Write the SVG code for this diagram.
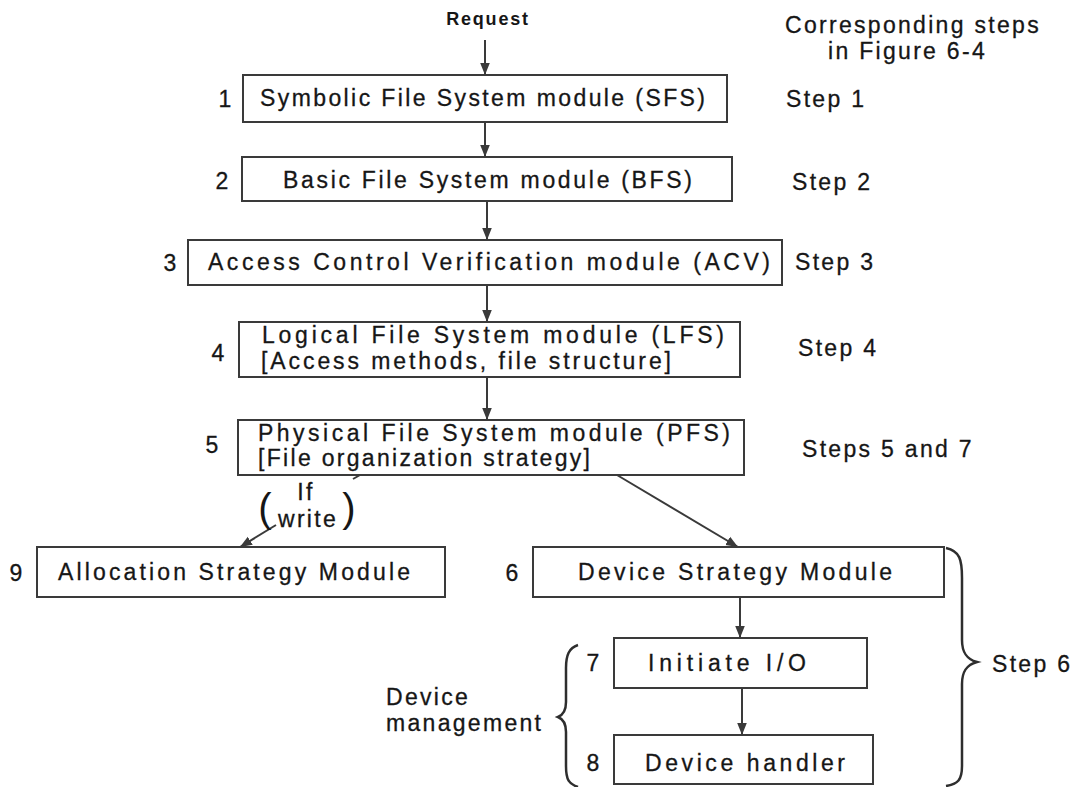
<svg xmlns="http://www.w3.org/2000/svg" width="1085" height="787" viewBox="0 0 1085 787">
  <defs>
    <marker id="arrow" markerUnits="userSpaceOnUse" markerWidth="12" markerHeight="16" refX="15" refY="6" viewBox="0 0 15 12" orient="auto">
      <path d="M0,0 L15,6 L0,12 Z" fill="#3a3a3a"/>
    </marker>
    <style>
      text { font-family: "Liberation Sans", Arial, sans-serif; fill: #161616; stroke: #161616; stroke-width: 0.3px; font-size: 23px; letter-spacing: 2.3px; }
      .fit { letter-spacing: 0; }
      .box rect { fill: #ffffff; stroke: #3a3a3a; stroke-width: 2; }
      .num { letter-spacing: 0; }
      .req { font-size: 18px; font-weight: bold; letter-spacing: 1.8px; stroke-width: 0; }
      .conn line { stroke: #3a3a3a; stroke-width: 2; }
      .brace { fill: none; stroke: #2e2e2e; stroke-width: 2.5; }
      .paren { font-size: 40px; letter-spacing: 0; stroke-width: 0; }
    </style>
  </defs>
  <rect width="1085" height="787" fill="#ffffff"/>

  <!-- headings -->
  <text class="req" x="488" y="25" text-anchor="middle">Request</text>
  <text x="785" y="33">Corresponding steps</text>
  <text x="828" y="59">in Figure 6-4</text>

  <!-- modules -->
  <g id="sfs" class="box">
    <rect x="243" y="75" width="484" height="47"/>
    <text class="fit" x="260" y="106" textLength="445" lengthAdjust="spacing">Symbolic File System module (SFS)</text>
    <text class="num" x="225" y="107" text-anchor="middle">1</text>
  </g>
  <g id="bfs" class="box">
    <rect x="242" y="157" width="490" height="44"/>
    <text class="fit" x="283" y="188" textLength="409" lengthAdjust="spacing">Basic File System module (BFS)</text>
    <text class="num" x="222" y="189" text-anchor="middle">2</text>
  </g>
  <g id="acv" class="box">
    <rect x="188" y="240" width="594" height="45"/>
    <text class="fit" x="208" y="270" textLength="562" lengthAdjust="spacing">Access Control Verification module (ACV)</text>
    <text class="num" x="170" y="271" text-anchor="middle">3</text>
  </g>
  <g id="lfs" class="box">
    <rect x="239" y="322" width="501" height="55"/>
    <text class="fit" x="262" y="343" textLength="462" lengthAdjust="spacing">Logical File System module (LFS)</text>
    <text class="fit" x="261" y="369" textLength="410" lengthAdjust="spacing">[Access methods, file structure]</text>
    <text class="num" x="218" y="361" text-anchor="middle">4</text>
  </g>
  <g id="pfs" class="box">
    <rect x="238" y="420" width="506" height="55"/>
    <text class="fit" x="258" y="441" textLength="472" lengthAdjust="spacing">Physical File System module (PFS)</text>
    <text class="fit" x="258" y="466" textLength="332" lengthAdjust="spacing">[File organization strategy]</text>
    <text class="num" x="212" y="453" text-anchor="middle">5</text>
  </g>
  <g id="asm" class="box">
    <rect x="37" y="547" width="408" height="50"/>
    <text class="fit" x="58" y="580" textLength="352" lengthAdjust="spacing">Allocation Strategy Module</text>
    <text class="num" x="16" y="581" text-anchor="middle">9</text>
  </g>
  <g id="dsm" class="box">
    <rect x="533" y="547" width="411" height="50"/>
    <text class="fit" x="578" y="580" textLength="314" lengthAdjust="spacing">Device Strategy Module</text>
    <text class="num" x="512" y="581" text-anchor="middle">6</text>
  </g>
  <g id="initio" class="box">
    <rect x="614" y="638" width="253" height="50"/>
    <text class="fit" x="648" y="671" textLength="158" lengthAdjust="spacing">Initiate I/O</text>
    <text class="num" x="593" y="671" text-anchor="middle">7</text>
  </g>
  <g id="handler" class="box">
    <rect x="614" y="735" width="259" height="49"/>
    <text class="fit" x="645" y="771" textLength="200" lengthAdjust="spacing">Device handler</text>
    <text class="num" x="593" y="771" text-anchor="middle">8</text>
  </g>

  <!-- connectors -->
  <g id="connectors" class="conn">
    <line x1="485" y1="40" x2="485" y2="75" marker-end="url(#arrow)"/>
    <line x1="485" y1="122" x2="485" y2="157" marker-end="url(#arrow)"/>
    <line x1="487" y1="201" x2="487" y2="240" marker-end="url(#arrow)"/>
    <line x1="487" y1="285" x2="487" y2="322" marker-end="url(#arrow)"/>
    <line x1="487" y1="377" x2="487" y2="420" marker-end="url(#arrow)"/>
    <line x1="360" y1="475" x2="353" y2="479"/>
    <line x1="276" y1="525" x2="240" y2="547" marker-end="url(#arrow)"/>
    <line x1="617" y1="475" x2="738" y2="547" marker-end="url(#arrow)"/>
    <line x1="740" y1="597" x2="740" y2="638" marker-end="url(#arrow)"/>
    <line x1="742" y1="688" x2="742" y2="735" marker-end="url(#arrow)"/>
  </g>

  <!-- condition on the write branch -->
  <g id="if-write">
    <text class="paren" x="265" y="522" text-anchor="middle">(</text>
    <text class="paren" x="349" y="522" text-anchor="middle">)</text>
    <text x="306" y="500" text-anchor="middle">If</text>
    <text x="308" y="527" text-anchor="middle">write</text>
  </g>

  <!-- step references -->
  <g id="steps">
    <text x="786" y="107">Step 1</text>
    <text x="792" y="190">Step 2</text>
    <text x="795" y="270">Step 3</text>
    <text x="798" y="356">Step 4</text>
    <text x="802" y="457">Steps 5 and 7</text>
    <text x="992" y="672">Step 6</text>
  </g>

  <!-- grouping braces -->
  <path class="brace" d="M946 548 C960 551 962 560 962 578 L962 640 C962 652 966 659 977 662 C966 665 962 672 962 684 L962 766 C962 780 958 784 946 786"/>
  <path class="brace" d="M578 645 C569 648 566 655 566 668 L566 702 C566 710 563 715 558 717 C563 719 566 724 566 732 L566 766 C566 780 569 784 578 787"/>
  <g id="device-management">
    <text x="386" y="705">Device</text>
    <text x="386" y="731">management</text>
  </g>
</svg>
